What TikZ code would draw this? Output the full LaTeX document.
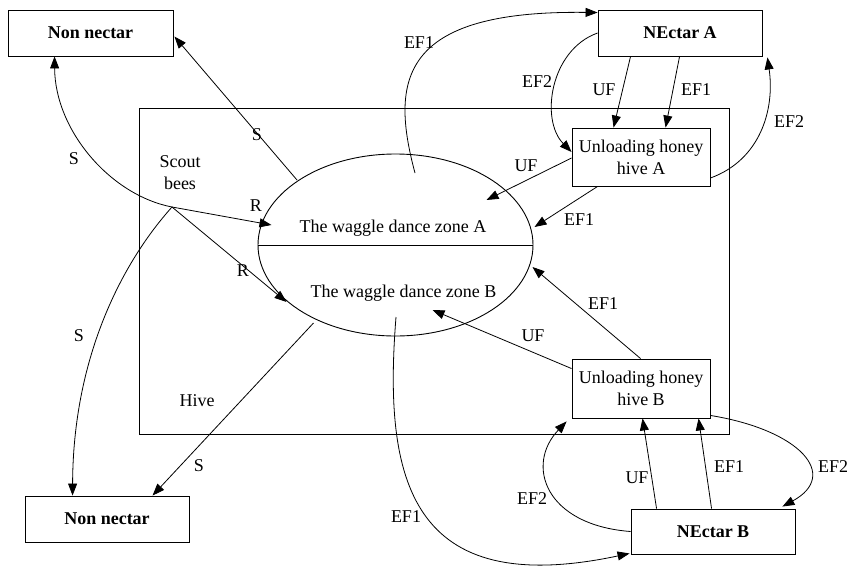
\documentclass[tikz,border=0pt]{standalone}
\usepackage{fontspec}
\setmainfont{Liberation Serif}
\usetikzlibrary{shapes.geometric,arrows.meta,calc}
\begin{document}
\begin{tikzpicture}[x=1pt,y=-1pt,
  every node/.style={font=\fontsize{18}{22}\selectfont},
  box/.style={draw,line width=0.9pt,inner sep=0pt,align=center},
  bbox/.style={box,font=\fontsize{18}{22}\selectfont\bfseries},
  conn/.style={line width=0.8pt,-{Triangle[length=12pt,width=9pt]}},
  lbl/.style={inner sep=0pt}]
\useasboundingbox (0,0) rectangle (849,566);
% hive and dance zone
\node[box,minimum width=590pt,minimum height=326pt] (hive) at (434,271) {};
\node[draw,ellipse,line width=0.9pt,minimum width=275pt,minimum height=182pt,inner sep=0pt] (ell) at (395.5,245) {};
\draw[line width=0.9pt] (ell.west) -- (ell.east);
% boxes
\node[bbox,minimum width=165pt,minimum height=46pt] (nnA) at (90.5,33) {Non nectar};
\node[bbox,minimum width=164pt,minimum height=46pt] (nA) at (680,33) {NEctar A};
\node[box,minimum width=138pt,minimum height=58pt] (uA) at (641,157) {Unloading honey\\hive A};
\node[box,minimum width=138pt,minimum height=59pt] (uB) at (641,388.5) {Unloading honey\\hive B};
\node[bbox,minimum width=164pt,minimum height=45pt] (nB) at (713,531.5) {NEctar B};
\node[bbox,minimum width=164pt,minimum height=46pt] (nnB) at (107,519) {Non nectar};
% texts
\node[align=center,inner sep=0pt] (scout) at (180,173) {Scout\\bees};
\coordinate (sp) at (172,207);
\node[inner sep=0pt] (hivelbl) at (197,401) {Hive};
\node[anchor=base,inner sep=0pt] (tA) at (393,232) {The waggle dance zone A};
\node[anchor=base,inner sep=0pt] (tB) at (403.5,297) {The waggle dance zone B};
% connectors
\draw[conn] (sp) .. controls (110,195) and (55,130) .. ($(nnA.south west)+(47,0)$);
\draw[conn] (sp) -- ($(ell.center)+(-124,-20)$);
\draw[conn] (sp) -- ($(ell.center)+(-109,57)$);
\draw[conn] (sp) .. controls (120,265) and (73,360) .. ($(nnB.north west)+(48,0)$);
\draw[conn] ($(ell.center)+(-98.5,-65)$) -- ($(nnA.north east)+(1,27)$);
\draw[conn] ($(ell.center)+(-82,78)$) -- ($(nnB.north west)+(128,0)$);
\draw[conn] ($(ell.center)+(19.5,-72)$) .. controls (390,80) and (400,10) .. ($(nA.north west)+(0,3)$);
\draw[conn] (nA.west) .. controls (550,50) and (540,120) .. ($(uA.west)+(0,-5)$);
\draw[conn] ($(nA.south west)+(33,0)$) -- ($(uA.north west)+(42,0)$);
\draw[conn] ($(nA.south west)+(82,0)$) -- ($(uA.north west)+(94,0)$);
\draw[conn] ($(uA.east)+(0,21)$) .. controls (760,160) and (775,110) .. ($(nA.south east)+(5,1)$);
\draw[conn] ($(uA.west)+(0,1)$) -- ($(ell.center)+(91,-45)$);
\draw[conn] ($(uA.south west)+(26,0)$) -- ($(ell.center)+(139,-18)$);
\draw[conn] ($(uB.north west)+(69,0)$) -- ($(ell.center)+(137,22)$);
\draw[conn] ($(uB.north west)+(0,10)$) -- ($(ell.center)+(37,65)$);
\draw[conn] ($(ell.center)+(0.5,72)$) .. controls (383,480) and (410,600) .. ($(nB.south west)+(-1,-1)$);
\draw[conn] (nB.west) .. controls (545,525) and (525,465) .. ($(uB.south west)+(-5,3)$);
\draw[conn] ($(nB.north west)+(26,0)$) -- ($(uB.south west)+(71,0)$);
\draw[conn] ($(nB.north west)+(81,0)$) -- ($(uB.south west)+(127,0)$);
\draw[conn] ($(uB.south east)+(0,-3)$) .. controls (800,430) and (840,475) .. ($(nB.north east)+(-13,-2)$);
% labels
\node[lbl] (l1) at (74,159) {S};
\node[lbl] (l2) at (256,206) {R};
\node[lbl] (l3) at (243,271) {R};
\node[lbl] (l4) at (79,336) {S};
\node[lbl] (l5) at (257,135) {S};
\node[lbl] (l6) at (199,466) {S};
\node[lbl] (l7) at (419,43) {EF1};
\node[lbl] (l8) at (537,82) {EF2};
\node[lbl] (l9) at (604,90) {UF};
\node[lbl] (l10) at (696,90) {EF1};
\node[lbl] (l11) at (789,122) {EF2};
\node[lbl] (l12) at (526,166) {UF};
\node[lbl] (l13) at (579,220) {EF1};
\node[lbl] (l14) at (603,304) {EF1};
\node[lbl] (l15) at (533,336) {UF};
\node[lbl] (l16) at (406,517) {EF1};
\node[lbl] (l17) at (532,499) {EF2};
\node[lbl] (l18) at (637,478) {UF};
\node[lbl] (l19) at (729,467) {EF1};
\node[lbl] (l20) at (833,467) {EF2};
\end{tikzpicture}
\end{document}
